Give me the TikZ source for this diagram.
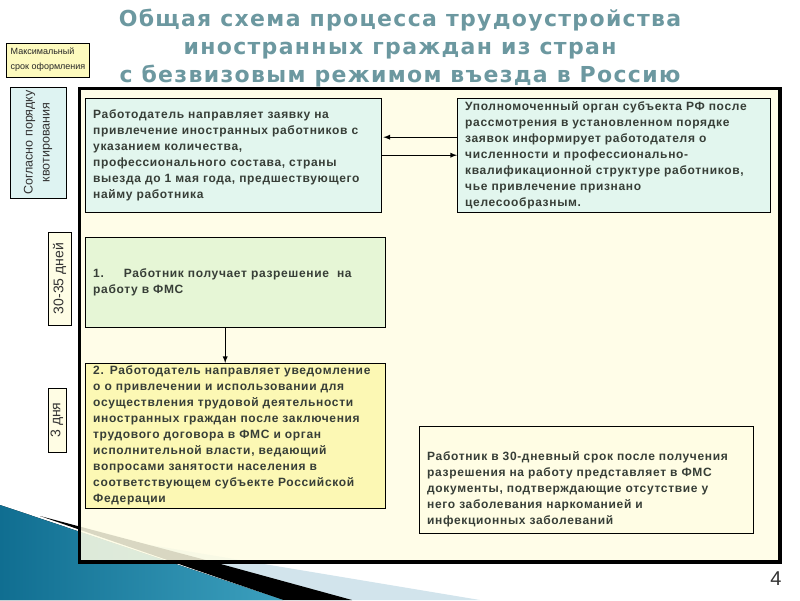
\documentclass[tikz,border=0pt]{standalone}
\usepackage{fontspec}
\setmainfont{Liberation Sans}
\newfontfamily\headfont[LetterSpace=6]{DejaVu Sans}
\newfontfamily\boxfont[LetterSpace=5.5]{Liberation Sans}
\definecolor{headteal}{RGB}{108,152,160}
\definecolor{boxtext}{RGB}{55,62,55}
\definecolor{framebg}{RGB}{255,253,228}
\definecolor{mintbg}{RGB}{226,246,238}
\definecolor{greenbg}{RGB}{230,246,214}
\definecolor{yellowbg}{RGB}{252,248,180}
\definecolor{notebg}{RGB}{253,250,190}
\definecolor{quotabg}{RGB}{222,243,242}
\definecolor{swooshdark}{RGB}{16,110,145}
\definecolor{swooshmid}{RGB}{60,160,190}
\definecolor{swooshlight}{RGB}{210,228,236}
\tikzset{
	infobox/.style={draw, rectangle, anchor=north west, align=left, inner xsep=8pt, inner ysep=0pt, text=boxtext, font=\boxfont\bfseries\fontsize{12}{16}\selectfont},
	sidelabel/.style={draw, rectangle, rotate=90, align=center, inner sep=0pt, text=black!80, font=\fontsize{12.5}{17}\selectfont},
	link/.style={-latex, line width=1.3pt}
}
\begin{document}
\begin{tikzpicture}[x=1pt, y=-1pt]
			\useasboundingbox (0, 0) rectangle (800, 600);
			\fill[swooshlight] (150, 545) -- (480, 600) -- (300, 600) -- cycle;
			\fill[black] (40, 516) -- (217, 563) -- (352, 600) -- (283, 600) -- cycle;
			\fill[left color=swooshdark, right color=swooshmid] (0, 505) -- (283, 600) -- (0, 600) -- cycle;
			\fill[framebg, fill opacity=0.85] (79.5, 88.5) rectangle (780, 562);
			\draw[line width=3.5pt] (79.5, 88.5) rectangle (780, 562);
			\node[align=center, text=headteal, font=\headfont\bfseries\fontsize{22}{28}\selectfont] (title)at(400, 48) {Общая схема процесса трудоустройства\\иностранных граждан из стран\\с безвизовым режимом въезда в Россию};
			\node[draw, rectangle, fill=notebg, minimum width=80pt, minimum height=34pt, inner xsep=4pt, align=left, font=\fontsize{9}{15}\selectfont, text=black!85] (maxsrok)at(48, 60) {Максимальный\\срок оформления};
			\node[sidelabel, fill=quotabg, minimum width=111pt, minimum height=56pt] (kvota)at(38, 142.5) {Согласно порядку\\квотирования};
			\node[sidelabel, fill=notebg!40, minimum width=93pt, minimum height=23pt, font=\fontsize{14}{17}\selectfont] (srok30)at(59.5, 278.5) {30-35 дней};
			\node[sidelabel, fill=framebg, minimum width=64pt, minimum height=18pt, font=\fontsize{14}{17}\selectfont] (srok3)at(57, 420) {3 дня};
			\node[infobox, fill=mintbg, text width=280pt, minimum height=114pt] (zayavka)at(85, 98) {Работодатель направляет заявку на\\привлечение иностранных работников с\\указанием количества,\\профессионального состава, страны\\выезда до 1 мая года, предшествующего\\найму работника};
			\node[infobox, fill=mintbg, text width=297pt, minimum height=114pt] (otvet)at(457, 98) {Уполномоченный орган субъекта РФ после\\рассмотрения в установленном порядке\\заявок информирует работодателя о\\численности и профессионально-\\квалификационной структуре работников,\\чье привлечение признано\\целесообразным.};
			\node[infobox, fill=greenbg, text width=284pt, minimum height=90pt] (razreshenie)at(85, 237) {1.\hspace{20pt}Работник получает разрешение\ \ на\\работу в ФМС};
			\node[infobox, fill=yellowbg, text width=284pt, minimum height=145pt] (uvedomlenie)at(85, 363) {2. Работодатель направляет уведомление\\о о привлечении и использовании для\\осуществления трудовой деятельности\\иностранных граждан после заключения\\трудового договора в ФМС и орган\\исполнительной власти, ведающий\\вопросами занятости населения в\\соответствующем субъекте Российской\\Федерации};
			\node[infobox, fill=framebg, text width=318pt, minimum height=107pt] (spravki)at(419, 426) {\mbox{}\\[13pt]Работник в 30-дневный срок после получения\\разрешения на работу представляет в ФМС\\документы, подтверждающие отсутствие у\\него заболевания наркоманией и\\инфекционных заболеваний};
			\node[text=black!80, font=\fontsize{20}{20}\selectfont] (nomer)at(776, 579) {4};
			\draw[link] ([yshift=18pt]otvet.west) -- ([yshift=18pt, xshift=2pt]zayavka.east);
			\draw[link] (zayavka.east) -- (otvet.west);
			\draw[link] ([xshift=-10pt]razreshenie.south) -- ([xshift=-10pt]uvedomlenie.north);
			\end{tikzpicture}
\end{document}
